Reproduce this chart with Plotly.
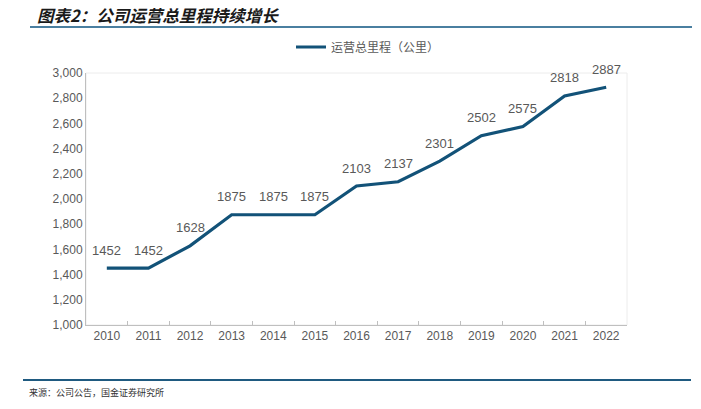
import plotly.graph_objects as go

years = ["2010", "2011", "2012", "2013", "2014", "2015", "2016", "2017", "2018", "2019", "2020", "2021", "2022"]
mileage = [1452, 1452, 1628, 1875, 1875, 1875, 2103, 2137, 2301, 2502, 2575, 2818, 2887]
series_name = "运营总里程（公里）"
title_text = "图表2：公司运营总里程持续增长"
source_text = "来源：公司公告，国金证券研究所"

W, H = 701, 409
L, T = 86, 73
R, B = W - 627, H - 325
PW, PH = W - L - R, H - T - B

def px_x(x):
    return (x - L) / PW

def px_y(y):
    return (H - B - y) / PH

fig = go.Figure()
fig.add_trace(go.Scatter(
    x=years, y=mileage, mode="lines", name=series_name,
    line=dict(color="#125278", width=3.2),
))

annotations = [
    dict(x=i, y=v, xref="x", yref="y", text=str(v), showarrow=False, yshift=18,
         yanchor="middle",
         font=dict(family="Liberation Sans, Arial", size=13, color="#595959"))
    for i, v in enumerate(mileage)
]
annotations += [
    dict(text="<b><i>" + title_text + "</i></b>", xref="paper", yref="paper",
         x=px_x(35), y=px_y(15), xanchor="left", yanchor="middle",
         showarrow=False, font=dict(family="Noto Sans CJK SC", size=16.5, color="#1a1a1a")),
    dict(text=source_text, xref="paper", yref="paper",
         x=px_x(27), y=px_y(392), xanchor="left", yanchor="middle",
         showarrow=False, font=dict(family="Noto Sans CJK SC", size=9, color="#333333")),
]

fig.update_layout(
    width=W, height=H,
    margin=dict(l=L, r=R, t=T, b=B, autoexpand=False),
    paper_bgcolor="white", plot_bgcolor="white",
    showlegend=True,
    legend=dict(orientation="h", x=px_x(368), xanchor="center", y=px_y(47), yanchor="middle",
                font=dict(family="Noto Sans CJK SC", size=12, color="#595959"),
                bgcolor="rgba(0,0,0,0)"),
    xaxis=dict(type="category", range=[-0.5, len(years) - 0.5], autorange=False,
               showline=True, linecolor="#bfbfbf", linewidth=1,
               automargin=False, ticks="inside", ticklen=4, tickcolor="#bfbfbf",
               tickson="boundaries", showgrid=False,
               tickfont=dict(family="Liberation Sans, Arial", size=12, color="#595959")),
    yaxis=dict(range=[1000, 3000], dtick=200, tickformat=",d", showline=True,
               linecolor="#bfbfbf", linewidth=1, showgrid=False, ticks="",
               zeroline=False, automargin=False,
               tickfont=dict(family="Liberation Sans, Arial", size=12, color="#595959")),
    shapes=[
        dict(type="rect", xref="paper", yref="paper", x0=0, x1=1, y0=0, y1=1,
             line=dict(color="#ececec", width=1), layer="below"),
        dict(type="line", xref="paper", yref="paper", x0=px_x(30), x1=px_x(692),
             y0=px_y(27), y1=px_y(27), line=dict(color="#4a7fa0", width=2)),
        dict(type="line", xref="paper", yref="paper", x0=px_x(23), x1=px_x(691),
             y0=px_y(380), y1=px_y(380), line=dict(color="#1f5a80", width=2)),
    ],
    annotations=annotations,
)

fig.write_html(
    "out.html",
    config={"displayModeBar": False},
    post_script="document.body.style.margin='0';document.body.style.overflow='hidden';",
)
